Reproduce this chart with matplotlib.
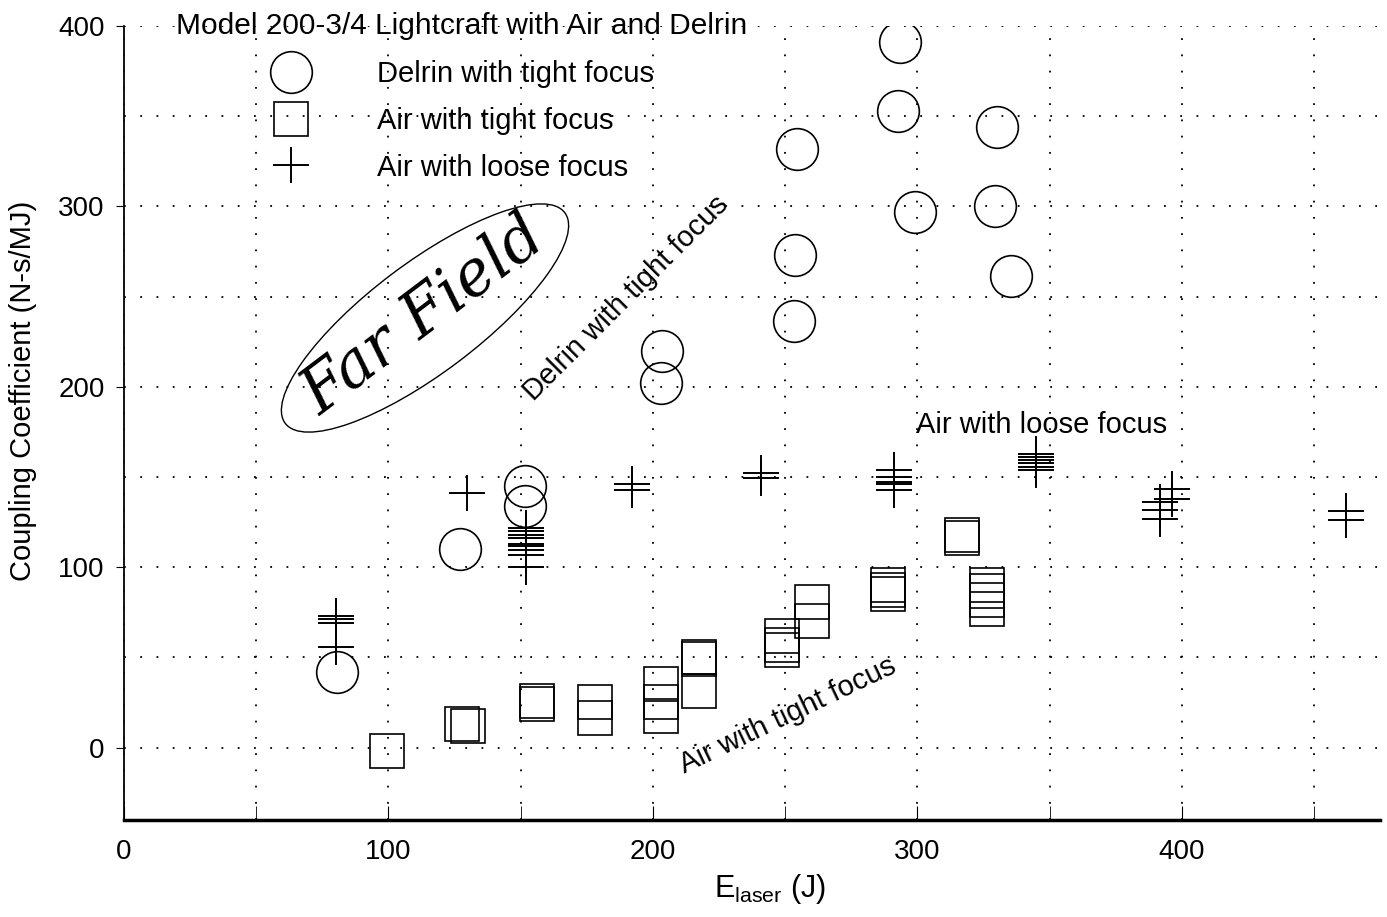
import matplotlib
matplotlib.use("Agg")
import numpy as np
from matplotlib import pyplot as plt
from matplotlib.patches import Ellipse

plt.rcParams['font.family'] = ['Liberation Sans', 'DejaVu Sans']
plt.rcParams['mathtext.default'] = 'regular'

# Delrin with tight focus (circles)
delrin_x = [80.7, 127, 151.6, 151.6, 203.6, 203, 253.4, 253.8, 254.5, 292.6, 293.4, 299, 329.5, 330, 335.6]
delrin_y = [42, 110, 145, 134, 220, 202, 236.6, 273, 332, 353, 391, 297, 300, 344, 261.5]

# Air with tight focus (squares)
air_tight_x = [99.5, 127.8, 130, 156, 156, 178, 178, 203, 203, 203, 217.6, 217.6, 217.6,
               249, 249, 249, 260, 260, 289, 289, 289, 317, 317, 326.5, 326.5, 326.5, 326.5]
air_tight_y = [-2, 13, 12, 26, 24, 25.5, 16.6, 35, 25.5, 17.7, 50, 49, 31.6,
               62, 57, 54, 81, 70, 90, 87.5, 85, 118, 116, 90, 87, 82, 77]

# Air with loose focus (crosses)
air_loose_x = [80.3, 80.3, 80.3, 80.3, 129.7,
               152, 152, 152, 152, 152, 152, 152, 152, 152,
               192, 192, 241, 241, 291, 291, 291, 291, 291,
               345, 345, 345, 345, 345, 345, 391.8, 391.8, 391.8, 396.3, 396.3, 462, 462]
air_loose_y = [73, 71.5, 69.3, 56, 141,
               122, 120, 118, 116, 113, 111.6, 109.4, 107, 100,
               146, 143, 152, 149.6, 154, 150, 147, 146, 143,
               163, 161, 159.6, 158, 155.7, 154, 136, 132, 127, 143.5, 138, 131, 126]

x_ticks = [0, 100, 200, 300, 400]
y_ticks = [0, 100, 200, 300, 400]

FS = 21

fig = plt.figure(figsize=(13.87, 9.17), dpi=100)
ax = fig.add_axes([0.0894, 0.106, 0.9056, 0.8656])

ax.plot(delrin_x, delrin_y, 'o', ms=30, mfc='none', mec='black', mew=1.2,
        label='Delrin with tight focus')
ax.plot(air_tight_x, air_tight_y, 's', ms=24, mfc='none', mec='black', mew=1.2,
        label='Air with tight focus')
ax.plot(air_loose_x, air_loose_y, '+', ms=26, mec='black', mew=1.4,
        label='Air with loose focus')

ax.set_xlim(0, 475)
ax.set_ylim(-40, 400)
ax.set_xticks(x_ticks)
ax.set_xticks(np.arange(0, 475, 50), minor=True)
ax.set_yticks(y_ticks)
ax.set_yticks(np.arange(0, 401, 50), minor=True)
ax.grid(True, which='both', color='black', linestyle=(0, (1, 8)), linewidth=1.3)
ax.tick_params(axis='x', which='both', direction='in', length=10, labelsize=20, pad=14)
ax.tick_params(axis='y', which='major', direction='out', length=6, labelsize=20, pad=8)
ax.tick_params(axis='y', which='minor', length=0)
ax.spines['top'].set_visible(False)
ax.spines['right'].set_visible(False)
ax.spines['bottom'].set_linewidth(2.5)
ax.spines['left'].set_linewidth(1.3)

ax.set_xlabel(r'$E_{laser}$ (J)', fontsize=22)
ax.xaxis.set_label_coords(0.514, -0.066)
ax.set_ylabel('Coupling Coefficient (N-s/MJ)', fontsize=21)
ax.yaxis.set_label_coords(-0.069, 0.54)

ax.text(19.5, 400, 'Model 200-3/4 Lightcraft with Air and Delrin', fontsize=21.5,
        ha='left', va='center')
ax.legend(loc='upper left', bbox_to_anchor=(0.11, 0.957), frameon=False, fontsize=FS,
          handlelength=2, handletextpad=1.95, labelspacing=0.64, borderpad=0, borderaxespad=0)

ax.text(190, 249, 'Delrin with tight focus', fontsize=FS, rotation=45,
        rotation_mode='anchor', ha='center', va='center')
ax.text(299.4, 179, 'Air with loose focus', fontsize=FS, ha='left', va='center')
ax.text(251, 18, 'Air with tight focus', fontsize=FS, rotation=25.5,
        rotation_mode='anchor', ha='center', va='center')

# handwritten note
ax.text(113.5, 239, 'Far Field', fontsize=45, rotation=37, style='italic',
        family='DejaVu Serif', rotation_mode='anchor', ha='center', va='center')
fig.patches.append(Ellipse((4.25, 5.99), 3.5, 1.1, angle=37, fill=False,
                           edgecolor='black', linewidth=1.0,
                           transform=fig.dpi_scale_trans))

fig.savefig('out.png', dpi=100, facecolor='white')
